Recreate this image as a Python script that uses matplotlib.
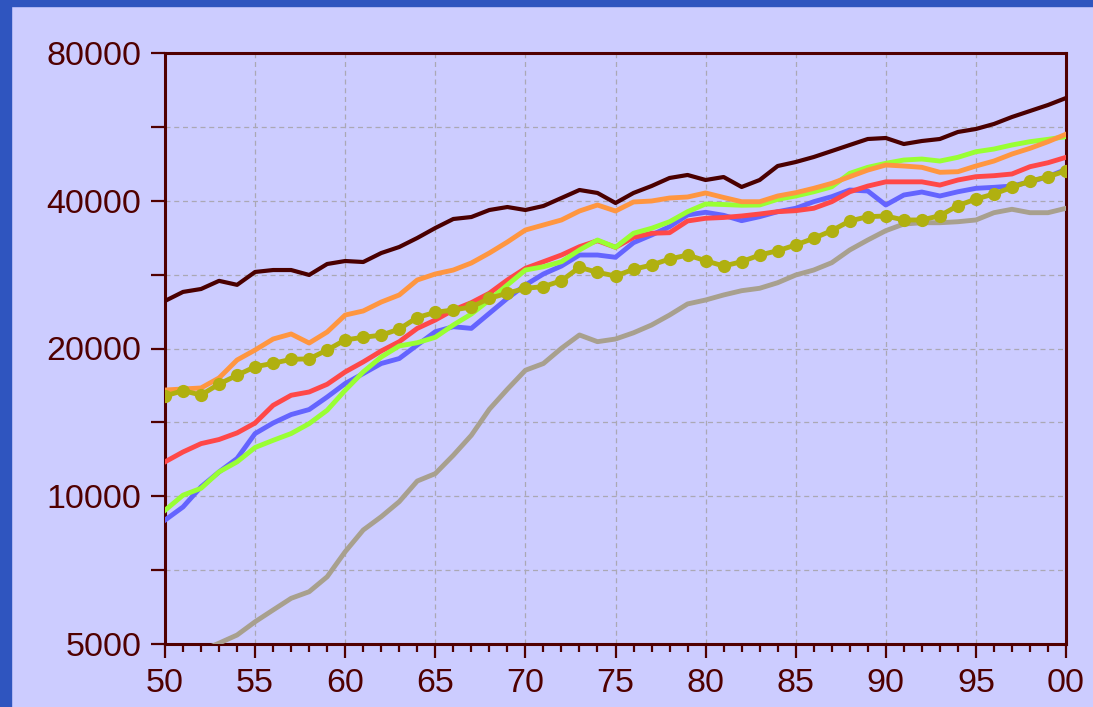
import matplotlib
matplotlib.use("Agg")
import matplotlib.pyplot as plt
from matplotlib.patches import Rectangle
from matplotlib.ticker import FixedLocator, FixedFormatter, MultipleLocator

years = list(range(1950, 2001))

maroon = [25000, 26080, 26440, 27470, 26960, 28640, 28900, 28900, 28240, 29730,
          30150, 30010, 31300, 32200, 33590, 35200, 36720, 37060, 38300, 38840,
          38300, 39030, 40520, 42070, 41490, 39580, 41490, 42860, 44510, 45140,
          44090, 44710, 42670, 44090, 47080, 47970, 49110, 50510, 51960, 53440,
          53690, 52200, 52940, 53440, 55230, 56010, 57340, 59250, 60940, 62680,
          64770]
orange = [16460, 16540, 16620, 17420, 18950, 19860, 20910, 21410, 20520, 21610,
          23400, 23850, 24870, 25710, 27580, 28370, 28900, 29870, 31300, 32960,
          34870, 35700, 36550, 38120, 39210, 38120, 39770, 39950, 40520, 40710,
          41490, 40620, 39820, 39820, 40900, 41540, 42400, 43400, 44780, 46190,
          47300, 47080, 46790, 45710, 45840, 47080, 48190, 49800, 51150, 52770,
          54660]
green = [9360, 10050, 10380, 11210, 11750, 12570, 13000, 13420, 14060, 14970,
         16440, 17920, 19220, 20240, 20550, 21080, 22330, 23510, 25110, 26940,
         28900, 29350, 30050, 31750, 33270, 32150, 34340, 35150, 36250, 38000,
         39400, 39300, 39160, 39210, 40270, 40900, 41720, 42700, 45490, 46790,
         47680, 48420, 48650, 48190, 49040, 50340, 50980, 51960, 52770, 53360,
         54020]
red = [11750, 12310, 12800, 13050, 13460, 14100, 15320, 16060, 16310, 16910,
       17920, 18780, 19770, 20650, 21980, 22860, 23960, 24800, 25920, 27580,
       29130, 30050, 31010, 32240, 33160, 32150, 33690, 34340, 34430, 36380,
       36840, 36980, 37240, 37590, 38000, 38180, 38610, 39820, 41720, 42850,
       43710, 43710, 43710, 43050, 44090, 44780, 44990, 45350, 46930, 47810,
       49040]
blue = [8940, 9510, 10450, 11210, 11940, 13420, 14100, 14670, 15020, 15930,
        16970, 17780, 18640, 19080, 20330, 21640, 22150, 21980, 23590, 25310,
        26940, 28370, 29450, 31010, 31010, 30680, 32860, 34060, 35420, 37420,
        37890, 37360, 36430, 37120, 38000, 38610, 39820, 40770, 42070, 41870,
        39210, 41090, 41670, 40900, 41720, 42400, 42600, 42850, 43710, 44780,
        46340]
olive = [16010, 16410, 16080, 16930, 17640, 18360, 18660, 19010, 19050, 19860,
         20820, 21080, 21290, 21910, 23130, 23700, 23960, 24300, 25310, 25920,
         26530, 26730, 27490, 29270, 28590, 28100, 29000, 29590, 30430, 31010,
         30190, 29450, 30050, 31010, 31640, 32500, 33540, 34760, 36380, 37120,
         37240, 36550, 36550, 37290, 39080, 40330, 41290, 42600, 43850, 44780,
         46030]
gray = [4500, 4660, 4840, 5020, 5215, 5550, 5865, 6195, 6390, 6855,
        7710, 8535, 9085, 9750, 10740, 11120, 12120, 13310, 15040, 16520,
        18060, 18640, 20020, 21310, 20650, 20910, 21530, 22330, 23400, 24650,
        25110, 25710, 26230, 26530, 27230, 28230, 28900, 29910, 31750, 33270,
        34760, 35860, 36080, 36080, 36250, 36550, 37820, 38430, 37820, 37820,
        38610]

y_ticks = [5000, 7071, 10000, 14142, 20000, 28284, 40000, 56569, 80000]
y_labels = ["5000", "", "10000", "", "20000", "", "40000", "", "80000"]

BG = "#CCCCFF"
INK = "#500000"
FRAME = "#2F55BF"

plt.rcParams["font.family"] = ["Liberation Sans", "DejaVu Sans"]

fig = plt.figure(figsize=(10.93, 7.07), dpi=100, facecolor=BG)
fig.patches.append(Rectangle((0, 0), 11 / 1093, 1, transform=fig.transFigure,
                             color=FRAME, zorder=0))
fig.patches.append(Rectangle((0, 1 - 6 / 707), 1, 6 / 707, transform=fig.transFigure,
                             color=FRAME, zorder=0))

ax = fig.add_axes([165 / 1093, 63 / 707, 901 / 1093, 591 / 707])
ax.set_facecolor(BG)

lw = 3.5
ax.plot(years, gray, color="#A8A08E", lw=lw, zorder=3)
ax.plot(years, blue, color="#6464FF", lw=lw, zorder=3)
ax.plot(years, red, color="#FF4848", lw=lw, zorder=3)
ax.plot(years, green, color="#99FF33", lw=lw, zorder=3)
ax.plot(years, orange, color="#FF9640", lw=lw, zorder=3)
ax.plot(years, maroon, color="#4A0000", lw=3.0, zorder=3)
ax.plot(years, olive, color="#B0B010", lw=lw, marker="o", ms=9.5,
        markeredgewidth=0, zorder=4)

ax.set_yscale("log")
ax.set_ylim(5000, 80000)
ax.set_xlim(1950, 2000)
ax.yaxis.set_major_locator(FixedLocator(y_ticks))
ax.yaxis.set_major_formatter(FixedFormatter(y_labels))
ax.yaxis.set_minor_locator(FixedLocator([]))
ax.xaxis.set_major_locator(MultipleLocator(5))
ax.xaxis.set_minor_locator(MultipleLocator(1))
ax.set_xticks(range(1950, 2001, 5))
ax.set_xticklabels([f"{y % 100:02d}" for y in range(1950, 2001, 5)])

ax.grid(True, which="major", color="#ABA8B4", lw=0.9, ls=(0, (4, 3)), zorder=1)

for s in ax.spines.values():
    s.set_color(INK)
    s.set_linewidth(2.2)
ax.tick_params(axis="both", which="major", direction="out", length=10,
               width=1.6, color=INK, labelcolor=INK, labelsize=24.5, pad=7)
ax.tick_params(axis="x", which="minor", direction="out", length=6, width=1.6,
               color=INK)
ax.tick_params(axis="y", which="major", pad=7)

fig.savefig("out.png", dpi=100, facecolor=BG)
